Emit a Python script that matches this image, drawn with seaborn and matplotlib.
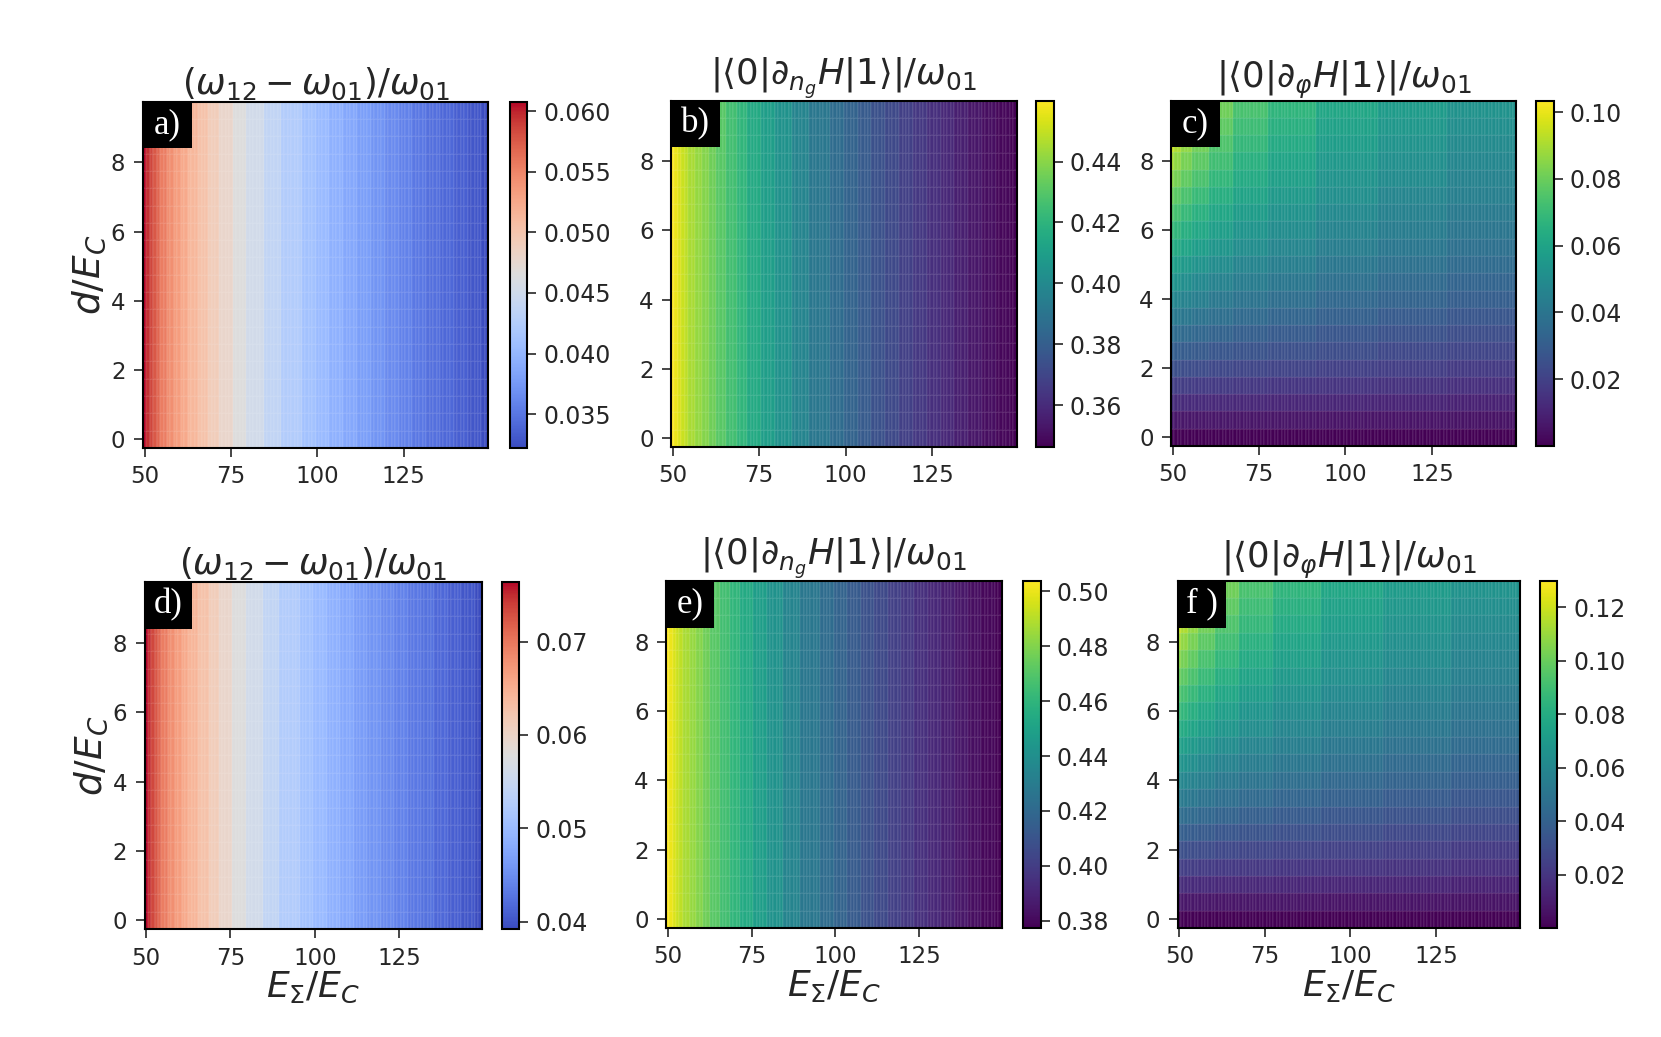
import numpy as np
import pandas as pd
import matplotlib
matplotlib.use("Agg")
import matplotlib.pyplot as plt
from matplotlib.patches import Rectangle
import seaborn as sns

sns.set_style("ticks")
plt.rcParams['font.family'] = ['DejaVu Sans']
plt.rcParams['mathtext.fontset'] = 'dejavusans'

# d/E_C rows of the scan
d_vals = [0.0, 0.5, 1.0, 1.5, 2.0, 2.5, 3.0, 3.5, 4.0, 4.5,
          5.0, 5.5, 6.0, 6.5, 7.0, 7.5, 8.0, 8.5, 9.0, 9.5]
d_ticks = [0, 2, 4, 6, 8]
es_ticks = [50, 75, 100, 125]

# E_sigma/E_C blocks: value holds from edge to next edge (columns are x=50..149)
edges_1d = [50, 51, 52, 53, 54, 55, 57, 59, 61, 63, 66, 69, 72, 76, 80, 85, 90,
            96, 100, 104, 108, 112, 116, 120, 124, 128, 132, 136, 140, 144, 148, 150]

# (w12 - w01)/w01, panels a) and d)
anh_top = [0.0608, 0.0595, 0.0585, 0.0576, 0.0568, 0.0555, 0.0544, 0.0534, 0.0525,
           0.0514, 0.0502, 0.0491, 0.0479, 0.0466, 0.0452, 0.0438, 0.0424,
           0.0412, 0.0404, 0.0395, 0.0387, 0.0379, 0.0372, 0.0365, 0.0358,
           0.0352, 0.0346, 0.0340, 0.0335, 0.0329, 0.0322]
anh_bot = [0.0764, 0.0747, 0.0734, 0.0722, 0.0712, 0.0695, 0.0681, 0.0668, 0.0656,
           0.0642, 0.0626, 0.0612, 0.0596, 0.0579, 0.0561, 0.0543, 0.0525,
           0.0509, 0.0499, 0.0487, 0.0477, 0.0466, 0.0457, 0.0448, 0.0439,
           0.0431, 0.0424, 0.0416, 0.0409, 0.0401, 0.0392]

# |<0|d_ng H|1>|/w01, panels b) and e)
dng_top = [0.4600, 0.4565, 0.4535, 0.4510, 0.4488, 0.4452, 0.4420, 0.4387, 0.4350,
           0.4305, 0.4255, 0.4207, 0.4154, 0.4098, 0.4038, 0.3977, 0.3915,
           0.3862, 0.3822, 0.3784, 0.3747, 0.3713, 0.3680, 0.3648, 0.3617,
           0.3588, 0.3560, 0.3533, 0.3507, 0.3481, 0.3463]
dng_bot = [0.5039, 0.5000, 0.4967, 0.4939, 0.4914, 0.4874, 0.4839, 0.4802, 0.4761,
           0.4711, 0.4655, 0.4601, 0.4542, 0.4480, 0.4413, 0.4345, 0.4276,
           0.4217, 0.4173, 0.4130, 0.4089, 0.4051, 0.4015, 0.3979, 0.3944,
           0.3912, 0.3881, 0.3851, 0.3822, 0.3793, 0.3773]

# |<0|d_phi H|1>|/w01, panels c) and f): one list per E_sigma block, d = 0 .. 9.5
edges_2d = [50, 51, 53, 56, 61, 68, 78, 92, 110, 130, 150]
dphi_top = [
    [0, 0.0066, 0.0130, 0.0192, 0.0253, 0.0313, 0.0372, 0.0429, 0.0486, 0.0541,
     0.0595, 0.0648, 0.0699, 0.0750, 0.0800, 0.0849, 0.0897, 0.0944, 0.0990, 0.1035],
    [0, 0.0064, 0.0127, 0.0188, 0.0248, 0.0306, 0.0363, 0.0418, 0.0473, 0.0525,
     0.0577, 0.0628, 0.0677, 0.0725, 0.0772, 0.0819, 0.0864, 0.0908, 0.0951, 0.0994],
    [0, 0.0063, 0.0125, 0.0184, 0.0242, 0.0298, 0.0352, 0.0405, 0.0457, 0.0507,
     0.0556, 0.0603, 0.0649, 0.0694, 0.0738, 0.0781, 0.0823, 0.0863, 0.0903, 0.0942],
    [0, 0.0062, 0.0122, 0.0179, 0.0235, 0.0288, 0.0340, 0.0390, 0.0438, 0.0485,
     0.0530, 0.0574, 0.0616, 0.0657, 0.0697, 0.0736, 0.0773, 0.0810, 0.0845, 0.0880],
    [0, 0.0061, 0.0118, 0.0174, 0.0226, 0.0277, 0.0325, 0.0372, 0.0416, 0.0459,
     0.0500, 0.0539, 0.0577, 0.0614, 0.0649, 0.0683, 0.0716, 0.0747, 0.0778, 0.0807],
    [0, 0.0059, 0.0115, 0.0168, 0.0218, 0.0265, 0.0310, 0.0352, 0.0393, 0.0431,
     0.0468, 0.0503, 0.0537, 0.0569, 0.0599, 0.0629, 0.0657, 0.0684, 0.0710, 0.0735],
    [0, 0.0057, 0.0111, 0.0161, 0.0208, 0.0252, 0.0294, 0.0333, 0.0370, 0.0405,
     0.0438, 0.0470, 0.0499, 0.0528, 0.0555, 0.0581, 0.0605, 0.0629, 0.0651, 0.0673],
    [0, 0.0056, 0.0107, 0.0154, 0.0198, 0.0239, 0.0277, 0.0313, 0.0346, 0.0378,
     0.0407, 0.0435, 0.0461, 0.0486, 0.0510, 0.0532, 0.0553, 0.0573, 0.0592, 0.0611],
    [0, 0.0053, 0.0102, 0.0146, 0.0187, 0.0226, 0.0261, 0.0294, 0.0325, 0.0354,
     0.0381, 0.0406, 0.0430, 0.0452, 0.0473, 0.0494, 0.0513, 0.0531, 0.0548, 0.0564],
    [0, 0.0050, 0.0096, 0.0138, 0.0177, 0.0213, 0.0246, 0.0276, 0.0305, 0.0331,
     0.0356, 0.0379, 0.0401, 0.0421, 0.0441, 0.0459, 0.0476, 0.0493, 0.0508, 0.0523],
]
dphi_bot = [
    [0, 0.0082, 0.0163, 0.0241, 0.0318, 0.0394, 0.0467, 0.0539, 0.0610, 0.0679,
     0.0747, 0.0813, 0.0879, 0.0942, 0.1005, 0.1066, 0.1126, 0.1185, 0.1243, 0.1300],
    [0, 0.0081, 0.0160, 0.0237, 0.0311, 0.0385, 0.0456, 0.0526, 0.0594, 0.0660,
     0.0725, 0.0788, 0.0850, 0.0911, 0.0970, 0.1028, 0.1085, 0.1140, 0.1195, 0.1248],
    [0, 0.0079, 0.0156, 0.0231, 0.0304, 0.0374, 0.0442, 0.0509, 0.0574, 0.0637,
     0.0698, 0.0757, 0.0816, 0.0872, 0.0927, 0.0981, 0.1033, 0.1084, 0.1134, 0.1183],
    [0, 0.0078, 0.0153, 0.0225, 0.0295, 0.0362, 0.0427, 0.0490, 0.0550, 0.0609,
     0.0666, 0.0721, 0.0774, 0.0826, 0.0876, 0.0924, 0.0972, 0.1017, 0.1062, 0.1105],
    [0, 0.0076, 0.0149, 0.0218, 0.0284, 0.0348, 0.0409, 0.0467, 0.0523, 0.0576,
     0.0628, 0.0677, 0.0725, 0.0771, 0.0815, 0.0858, 0.0899, 0.0939, 0.0977, 0.1014],
    [0, 0.0074, 0.0145, 0.0211, 0.0274, 0.0333, 0.0389, 0.0443, 0.0493, 0.0542,
     0.0588, 0.0632, 0.0674, 0.0714, 0.0753, 0.0790, 0.0825, 0.0859, 0.0892, 0.0923],
    [0, 0.0072, 0.0140, 0.0203, 0.0262, 0.0317, 0.0369, 0.0418, 0.0465, 0.0509,
     0.0550, 0.0590, 0.0627, 0.0663, 0.0697, 0.0729, 0.0760, 0.0790, 0.0818, 0.0845],
    [0, 0.0070, 0.0134, 0.0194, 0.0249, 0.0301, 0.0348, 0.0393, 0.0435, 0.0475,
     0.0512, 0.0547, 0.0580, 0.0611, 0.0640, 0.0668, 0.0695, 0.0720, 0.0744, 0.0767],
    [0, 0.0067, 0.0128, 0.0184, 0.0235, 0.0283, 0.0328, 0.0369, 0.0408, 0.0444,
     0.0478, 0.0510, 0.0540, 0.0568, 0.0595, 0.0620, 0.0644, 0.0667, 0.0688, 0.0709],
    [0, 0.0063, 0.0121, 0.0174, 0.0222, 0.0267, 0.0308, 0.0347, 0.0382, 0.0416,
     0.0447, 0.0476, 0.0504, 0.0529, 0.0554, 0.0576, 0.0598, 0.0619, 0.0638, 0.0657],
]

# colorbar ticks
cb_ticks = {
    "a)": [0.035, 0.040, 0.045, 0.050, 0.055, 0.060],
    "b)": [0.36, 0.38, 0.40, 0.42, 0.44],
    "c)": [0.02, 0.04, 0.06, 0.08, 0.10],
    "d)": [0.04, 0.05, 0.06, 0.07],
    "e)": [0.38, 0.40, 0.42, 0.44, 0.46, 0.48, 0.50],
    "f )": [0.02, 0.04, 0.06, 0.08, 0.10, 0.12],
}

t_anh = r'$(\omega_{12}-\omega_{01})/\omega_{01}$'
t_dng = r'$|\langle 0|\partial_{n_g}H|1\rangle|/\omega_{01}$'
t_dphi = r'$|\langle 0|\partial_{\varphi}H|1\rangle|/\omega_{01}$'


def frame_1d(vals, edges):
    prof = np.repeat(vals, np.diff(edges))
    return pd.DataFrame(np.tile(prof, (len(d_vals), 1)), index=d_vals,
                        columns=range(edges[0], edges[-1]))


def frame_2d(cols, edges):
    arr = np.array(cols).T
    return pd.DataFrame(np.repeat(arr, np.diff(edges), axis=1), index=d_vals,
                        columns=range(edges[0], edges[-1]))


panels = [
    ("a)", frame_1d(anh_top, edges_1d), "coolwarm", t_anh, "%.3f",
     [0.086, 0.568, 0.208, 0.334], [0.307, 0.568, 0.0105, 0.334]),
    ("b)", frame_1d(dng_top, edges_1d), "viridis", t_dng, "%.2f",
     [0.404, 0.569, 0.208, 0.334], [0.624, 0.569, 0.0105, 0.334]),
    ("c)", frame_2d(dphi_top, edges_2d), "viridis", t_dphi, "%.2f",
     [0.705, 0.570, 0.208, 0.333], [0.925, 0.570, 0.0105, 0.333]),
    ("d)", frame_1d(anh_bot, edges_1d), "coolwarm", t_anh, "%.2f",
     [0.087, 0.104, 0.203, 0.335], [0.302, 0.104, 0.0105, 0.335]),
    ("e)", frame_1d(dng_bot, edges_1d), "viridis", t_dng, "%.2f",
     [0.401, 0.105, 0.202, 0.335], [0.616, 0.105, 0.0105, 0.335]),
    ("f )", frame_2d(dphi_bot, edges_2d), "viridis", t_dphi, "%.2f",
     [0.709, 0.105, 0.206, 0.335], [0.927, 0.105, 0.0105, 0.335]),
]

fig = plt.figure(figsize=(16.61, 10.37), dpi=100)

for k, (lab, df, cmap, title, fmt, pos, cpos) in enumerate(panels):
    ax = fig.add_axes(pos)
    cax = fig.add_axes(cpos)
    sns.heatmap(df, ax=ax, cbar_ax=cax, cmap=cmap, xticklabels=False,
                yticklabels=False, linewidths=0.2, linecolor=(1, 1, 1, 0.06))
    ax.invert_yaxis()

    cols = list(df.columns)
    ax.set_xticks([cols.index(v) + 0.5 for v in es_ticks])
    ax.set_xticklabels([str(v) for v in es_ticks])
    ax.set_yticks([d_vals.index(v) + 0.5 for v in d_ticks])
    ax.set_yticklabels([str(v) for v in d_ticks], rotation=0)
    ax.tick_params(labelsize=16.5, length=6.5, width=1.2, direction='out',
                   pad=6, bottom=True, left=True)
    for sp in ax.spines.values():
        sp.set_visible(True)
        sp.set_linewidth(1.5)
        sp.set_color('black')
    ax.set_title(title, fontsize=25.5, pad=5)

    cb = ax.collections[0].colorbar
    cb.set_ticks(cb_ticks[lab])
    cb.set_ticklabels([fmt % v for v in cb_ticks[lab]])
    cb.outline.set_linewidth(1.5)
    cb.outline.set_edgecolor('black')
    cb.ax.tick_params(labelsize=17, length=6.5, width=1.2, pad=5)

    # panel tag
    ax.add_patch(Rectangle((0, 0.865), 0.142, 0.135, transform=ax.transAxes,
                           facecolor='black', edgecolor='none', zorder=5))
    ax.text(0.071, 0.933, lab, transform=ax.transAxes, color='white',
            family='Liberation Serif', fontsize=25, ha='center', va='center',
            zorder=6)

    if k % 3 == 0:
        ax.set_ylabel(r'$d/E_C$', fontsize=27, labelpad=2)
    else:
        ax.set_ylabel('')
    if k >= 3:
        ax.set_xlabel(r'$E_\Sigma/E_C$', fontsize=26, labelpad=0)
    else:
        ax.set_xlabel('')

fig.savefig("out.png", dpi=100)
